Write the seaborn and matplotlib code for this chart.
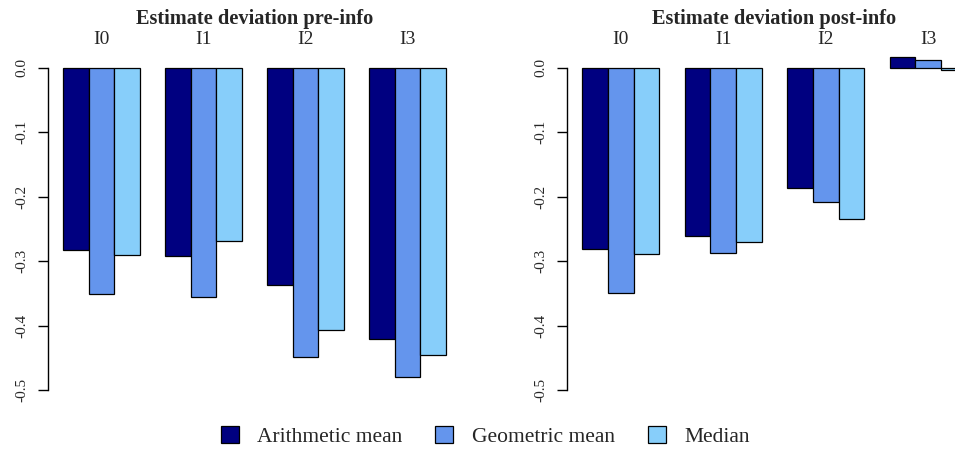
"""Estimate deviation before / after information, grouped bars per info level."""
import matplotlib
matplotlib.use("Agg")
import matplotlib.pyplot as plt
import matplotlib.patches as mpatches
import pandas as pd
import seaborn as sns

# ── Data ──────────────────────────────────────────────────────────────
groups = ["I0", "I1", "I2", "I3"]
stats = ["Arithmetic mean", "Geometric mean", "Median"]

pre_arith = [-0.282, -0.292, -0.337, -0.420]
pre_geom = [-0.351, -0.356, -0.448, -0.479]
pre_median = [-0.290, -0.269, -0.406, -0.445]

post_arith = [-0.281, -0.261, -0.186, 0.017]
post_geom = [-0.350, -0.288, -0.208, 0.013]
post_median = [-0.289, -0.270, -0.234, -0.004]

panel_titles = ["Estimate deviation pre-info", "Estimate deviation post-info"]
y_ticks = [0.0, -0.1, -0.2, -0.3, -0.4, -0.5]

COLORS = ["#000080", "#6495ED", "#87CEFA"]
SERIF = ["Liberation Serif", "DejaVu Serif"]


def long_frame(arith, geom, median):
    rows = []
    for series, name in zip([arith, geom, median], stats):
        for g, v in zip(groups, series):
            rows.append({"group": g, "stat": name, "value": v})
    return pd.DataFrame(rows)


frames = [
    long_frame(pre_arith, pre_geom, pre_median),
    long_frame(post_arith, post_geom, post_median),
]

sns.set_style("white")
plt.rcParams["font.family"] = SERIF

fig = plt.figure(figsize=(9.55, 4.5), dpi=100)
# right panel deliberately runs past the figure edge, as in the source
axes = [
    fig.add_axes([0.050, 0.1044, 0.4330, 0.7734]),
    fig.add_axes([0.5937, 0.1044, 0.4346, 0.7734]),
]

for ax, df, title in zip(axes, frames, panel_titles):
    sns.barplot(
        data=df, x="group", y="value", hue="stat",
        order=groups, hue_order=stats, palette=COLORS, saturation=1,
        width=0.75, gap=0, edgecolor="black", linewidth=0.9,
        errorbar=None, legend=False, ax=ax,
    )
    ax.set_xlim(-0.525, 3.525)
    ax.set_ylim(-0.52, 0.02)
    ax.set_xlabel("")
    ax.set_ylabel("")

    # group labels on top, no ticks
    ax.xaxis.tick_top()
    ax.set_xticks(range(len(groups)))
    ax.set_xticklabels(groups, fontsize=14)
    ax.tick_params(axis="x", length=0, pad=5)

    # R-style y axis: line only across tick range
    ax.set_yticks(y_ticks)
    ax.set_yticklabels([f"{t:.1f}" for t in y_ticks], rotation=90,
                       va="center", fontsize=11)
    ax.tick_params(axis="y", left=True, direction="out", length=7,
                   width=1, color="black", pad=7)
    for side in ["top", "right", "bottom"]:
        ax.spines[side].set_visible(False)
    ax.spines["left"].set_bounds(-0.5, 0.0)
    ax.spines["left"].set_linewidth(1)
    ax.spines["left"].set_color("black")

    ax.set_title(title, fontsize=14.7, fontweight="bold", pad=22)

handles = [mpatches.Patch(facecolor=c, edgecolor="black", linewidth=0.9)
           for c in COLORS]
fig.legend(
    handles, stats, loc="center", bbox_to_anchor=(0.508, 0.029),
    ncol=3, frameon=False, fontsize=15.5, handlelength=0.83,
    handleheight=0.83, columnspacing=1.55, handletextpad=0.85,
)

fig.savefig("out.png", dpi=100)
